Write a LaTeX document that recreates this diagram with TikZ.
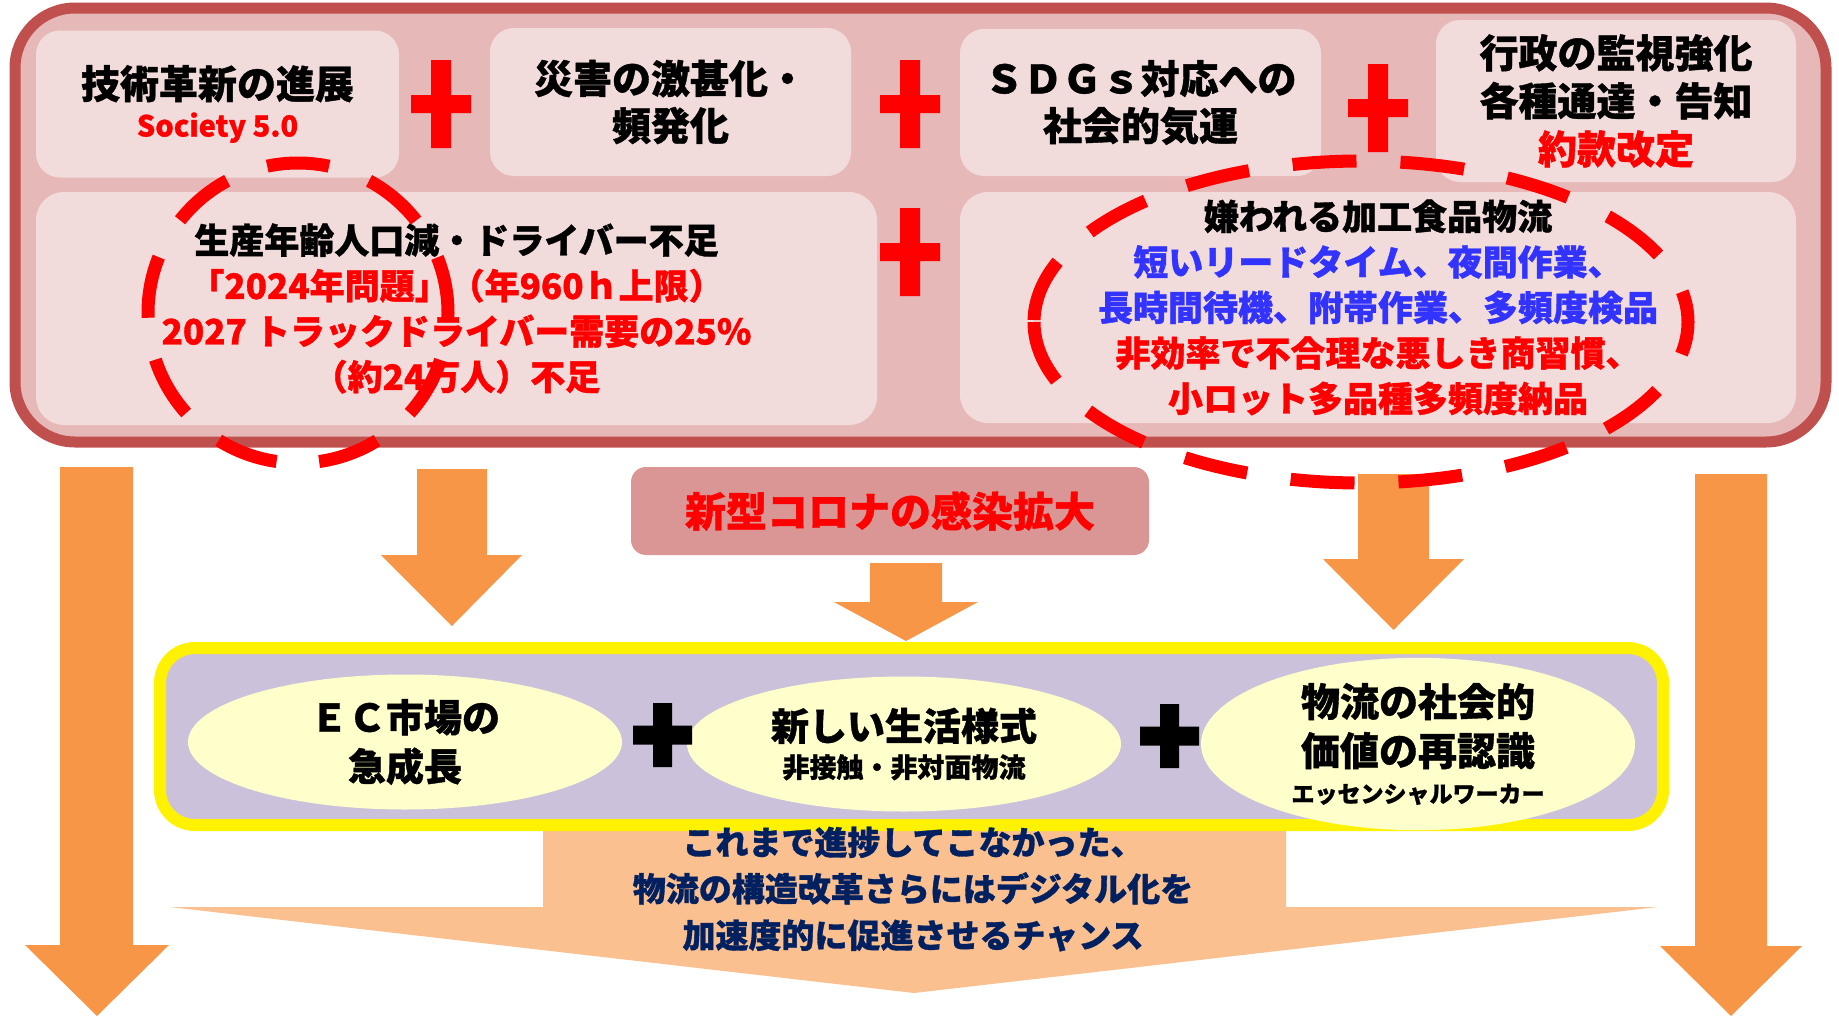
\documentclass[tikz,border=0pt]{standalone}
\usepackage{fontspec}
\setmainfont{Noto Sans CJK JP}[BoldFeatures={FakeBold=1}]
\usetikzlibrary{shapes.geometric}
\definecolor{outerborder}{HTML}{C0504D}
\definecolor{outerfill}{HTML}{E6B8B7}
\definecolor{innerfill}{HTML}{F2DCDB}
\definecolor{plusred}{HTML}{FF0000}
\definecolor{txtblue}{HTML}{3333FF}
\definecolor{arroworange}{HTML}{F79646}
\definecolor{coronafill}{HTML}{D99694}
\definecolor{lavender}{HTML}{CCC1DA}
\definecolor{ellfill}{HTML}{FFFFCC}
\definecolor{chancefill}{HTML}{FAC090}
\definecolor{navy}{HTML}{002060}
\tikzset{
  innerbox/.style={fill=innerfill, rounded corners=24pt, inner sep=0pt, align=center},
  topfont/.style={font=\bfseries\fontsize{39}{47}\selectfont},
  midfont/.style={font=\bfseries\fontsize{35}{45.5}\selectfont},
  ellnode/.style={ellipse, fill=ellfill, minimum width=434pt, minimum height=135pt, inner sep=0pt, align=center},
  blockarrow/.style={fill=arroworange},
  redplus/.style={fill=plusred},
  blackplus/.style={fill=black},
  dashring/.style={draw=plusred, line width=13pt, dash pattern=on 64pt off 44pt}
}
\begin{document}
\begin{tikzpicture}[x=1pt,y=-1pt]
\useasboundingbox (0,0) rectangle (1839,1017);

% outer frame
\node[draw=outerborder, line width=11pt, fill=outerfill, rounded corners=60pt,
      minimum width=1811pt, minimum height=434pt, inner sep=0pt] (outer) at (920.5,225) {};

% top row boxes
\node[innerbox, topfont, minimum width=363pt, minimum height=147pt,
      font=\bfseries\fontsize{39}{38}\selectfont] (tech) at (217.5,104)
  {技術革新の進展\\{\color{plusred}\fontsize{29}{38}\selectfont Society 5.0}};
\node[innerbox, topfont, minimum width=361pt, minimum height=148pt] (disaster) at (670.5,102)
  {災害の激甚化・\\頻発化};
\node[innerbox, topfont, minimum width=361pt, minimum height=147pt] (sdgs) at (1140.5,102.5)
  {ＳＤＧｓ対応への\\社会的気運};
\node[innerbox, topfont, minimum width=360pt, minimum height=162pt,
      font=\bfseries\fontsize{39}{48}\selectfont] (gov) at (1616,101)
  {行政の監視強化\\各種通達・告知\\{\color{plusred}約款改定}};

% second row boxes
\node[innerbox, midfont, rounded corners=28pt, minimum width=841pt, minimum height=233pt] (labor) at (456.5,308.5)
  {生産年齢人口減・ドライバー不足\\{\color{plusred}「2024年問題」（年960ｈ上限）}\\{\color{plusred}2027 トラックドライバー需要の25\%}\\{\color{plusred}（約24万人）不足}};
\node[innerbox, midfont, rounded corners=28pt, minimum width=836pt, minimum height=231pt] (food) at (1378,307.5)
  {嫌われる加工食品物流\\{\color{txtblue}短いリードタイム、夜間作業、}\\{\color{txtblue}長時間待機、附帯作業、多頻度検品}\\{\color{plusred}非効率で不合理な悪しき商習慣、}\\{\color{plusred}小ロット多品種多頻度納品}};

% red plus signs
\fill[redplus, shift={(441,104)}] (-10,-44) rectangle (10,44) (-30,-9) rectangle (30,9);
\fill[redplus, shift={(910,104)}] (-10,-44) rectangle (10,44) (-30,-9) rectangle (30,9);
\fill[redplus, shift={(1378,108)}] (-10,-44) rectangle (10,44) (-30,-9) rectangle (30,9);
\fill[redplus, shift={(910,252)}] (-10,-44) rectangle (10,44) (-30,-9) rectangle (30,9);

% block arrows
\fill[blockarrow] (60,467) -- (133,467) -- (133,945) -- (169,945) -- (97,1016) -- (25,945) -- (60,945) -- cycle;
\fill[blockarrow] (1695,474) -- (1767,474) -- (1767,946) -- (1802,946) -- (1731,1016) -- (1660,946) -- (1695,946) -- cycle;
\fill[blockarrow] (417,469) -- (487,469) -- (487,555) -- (522,555) -- (452,626) -- (381,555) -- (417,555) -- cycle;
\fill[blockarrow] (870,563) -- (942,563) -- (942,602) -- (978,602) -- (906,641) -- (834,602) -- (870,602) -- cycle;
\fill[blockarrow] (1358,474) -- (1429,474) -- (1429,559) -- (1464,559) -- (1393.5,630) -- (1323,559) -- (1358,559) -- cycle;

% corona box
\node[fill=coronafill, rounded corners=15pt, minimum width=518pt, minimum height=88pt, inner sep=0pt,
      text=plusred, font=\bfseries\fontsize{41}{41}\selectfont] (corona) at (890,511) {新型コロナの感染拡大};

% chance shape
\fill[chancefill] (543,825) -- (1286,825) -- (1286,907) -- (1658,907) -- (914,993) -- (170,907) -- (543,907) -- cycle;

% yellow framed box
\node[draw=yellow, line width=12pt, fill=lavender, rounded corners=35pt,
      minimum width=1503pt, minimum height=177pt, inner sep=0pt] (frame) at (911.5,736.5) {};

% ellipses
\node[ellnode, font=\bfseries\fontsize{38}{49}\selectfont] (ec) at (405,742) {ＥＣ市場の\\急成長};
\node[ellnode, font=\bfseries\fontsize{38}{49}\selectfont] (life) at (904,744)
  {新しい生活様式\\[-12pt]{\fontsize{27}{37}\selectfont 非接触・非対面物流}};
\node[ellnode, font=\bfseries\fontsize{39}{49}\selectfont] (value) at (1418,744)
  {物流の社会的\\価値の再認識\\[-12pt]{\fontsize{23}{30}\selectfont エッセンシャルワーカー}};

% black plus signs
\fill[blackplus, shift={(662.5,735)}] (-9.5,-32) rectangle (9.5,32) (-29.5,-9.5) rectangle (29.5,9.5);
\fill[blackplus, shift={(1169.5,736)}] (-9.5,-32) rectangle (9.5,32) (-29.5,-9.5) rectangle (29.5,9.5);

% chance text
\node[text=navy, align=center, inner sep=0pt, font=\bfseries\fontsize{33}{46.5}\selectfont] (chance) at (913,889)
  {これまで進捗してこなかった、\\物流の構造改革さらにはデジタル化を\\加速度的に促進させるチャンス};

% dashed rings
\draw[dashring, dash pattern=on 62pt off 42.7pt, dash phase=31pt] (298,163) arc[start angle=270, end angle=-90, x radius=150, y radius=150];
\draw[dashring] (1034,322) arc[start angle=180, end angle=-180, x radius=327, y radius=161];
\end{tikzpicture}
\end{document}
